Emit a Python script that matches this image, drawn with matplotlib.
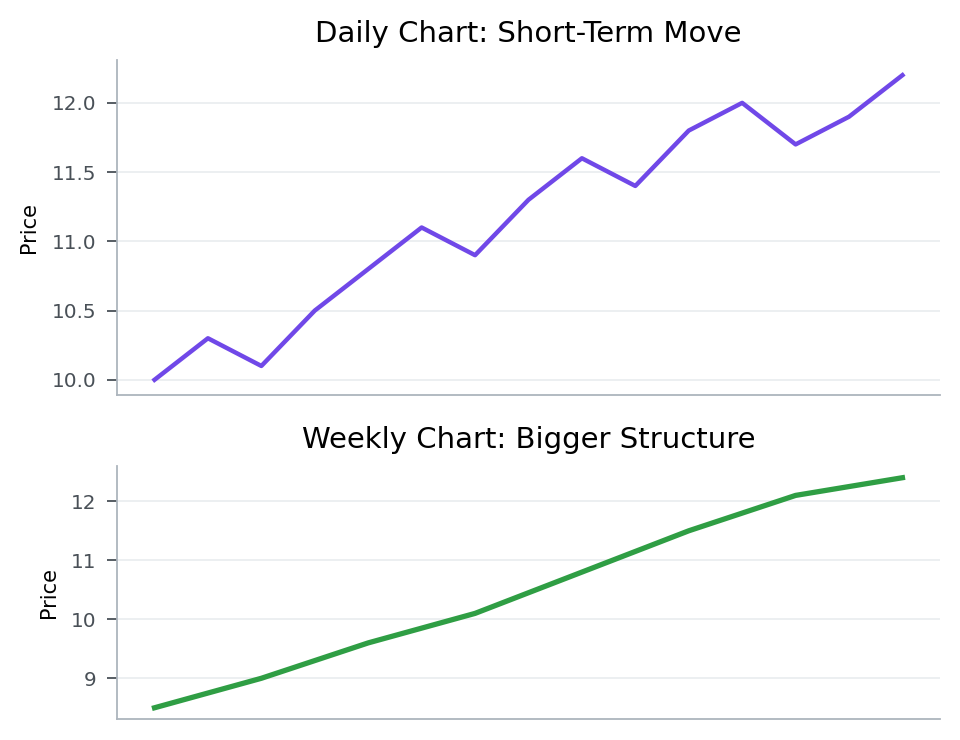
import numpy as np
import matplotlib
matplotlib.use("Agg")
import matplotlib.pyplot as plt

# daily closes
daily_prices = [10.0, 10.3, 10.1, 10.5, 10.8, 11.1, 10.9, 11.3,
                11.6, 11.4, 11.8, 12.0, 11.7, 11.9, 12.2]
# weekly closes
weekly_prices = [8.5, 9.0, 9.6, 10.1, 10.8, 11.5, 12.1, 12.4]

daily_x = np.arange(len(daily_prices))
weekly_x = np.arange(len(weekly_prices))

spine_col = "#adb5bd"
tick_col = "#495057"
grid_col = "#e9ecef"

fig, (ax1, ax2) = plt.subplots(
    2, 1, figsize=(9.6, 7.4), dpi=100,
    gridspec_kw={"height_ratios": [335, 253]})
fig.subplots_adjust(left=0.122, right=0.979, top=0.919, bottom=0.028, hspace=0.242)

ax1.plot(daily_x, daily_prices, color="#7048e8", lw=3.2)
ax1.set_title("Daily Chart: Short-Term Move", fontsize=21, pad=13)

ax2.plot(weekly_x, weekly_prices, color="#2f9e44", lw=3.8)
ax2.set_title("Weekly Chart: Bigger Structure", fontsize=21, pad=13)

for ax in (ax1, ax2):
    ax.set_ylabel("Price", fontsize=15, labelpad=9)
    ax.spines["top"].set_visible(False)
    ax.spines["right"].set_visible(False)
    for s in ("left", "bottom"):
        ax.spines[s].set_color(spine_col)
        ax.spines[s].set_linewidth(1.3)
    ax.set_xticks([])
    ax.tick_params(axis="y", labelsize=14.4, colors=tick_col,
                   length=7.2, width=1.3, pad=7.5)
    ax.grid(axis="y", color=grid_col, lw=1.2)
    ax.set_axisbelow(True)

fig.savefig("out.png", dpi=100)
